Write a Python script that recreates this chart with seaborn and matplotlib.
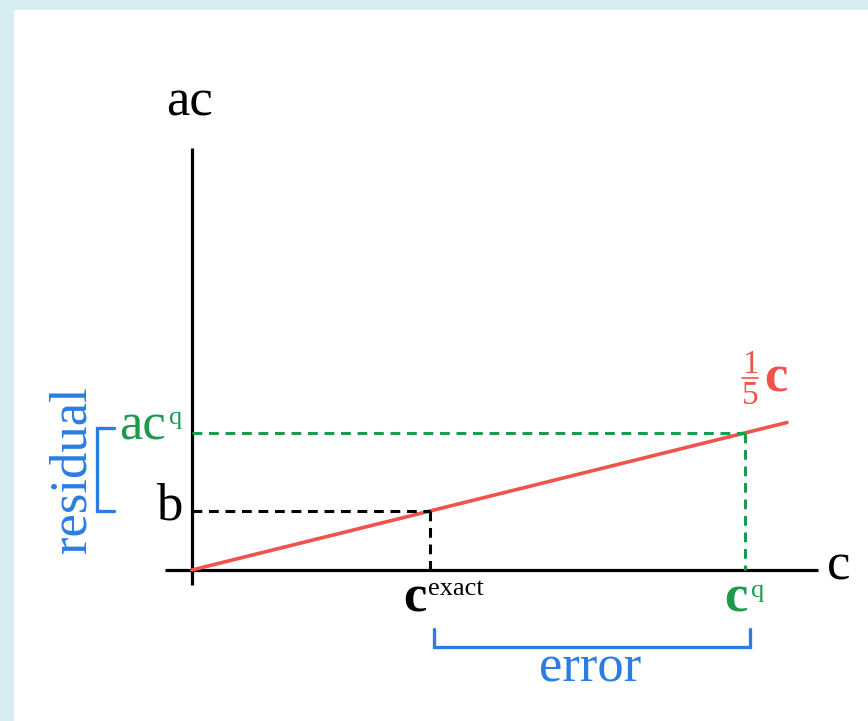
import matplotlib
matplotlib.use("Agg")
import matplotlib.pyplot as plt
import seaborn as sns
import numpy as np
import pandas as pd
from matplotlib.patches import Rectangle

# ---- data ----
slope = 1 / 5
line_c = [0.0, 5.0]                 # red line c range
c_exact = 2.0
c_q = 4.65
b_val = slope * c_exact             # 0.4
acq_val = slope * c_q               # 0.93
x_axis_range = [-0.23, 5.26]
y_axis_range = [-0.10, 2.86]
residual_bracket_y = [b_val, acq_val + 0.03]
error_bracket_x = [2.03, 4.69]

RED = "#f0524c"
GREEN = "#1e9a4c"
BLUE = "#2b7de3"

sns.set_style("white")
plt.rcParams["font.family"] = ["Liberation Serif", "DejaVu Serif"]

fig = plt.figure(figsize=(8.68, 7.21), dpi=100)
fig.patch.set_facecolor("white")
# light blue slide border (top and left)
fig.patches.append(Rectangle((0, 1 - 10 / 721), 1, 10 / 721, transform=fig.transFigure,
                             facecolor="#d6edf1", edgecolor="none", zorder=0))
fig.patches.append(Rectangle((0, 0), 14 / 868, 1, transform=fig.transFigure,
                             facecolor="#d6edf1", edgecolor="none", zorder=0))

ax = fig.add_axes([14 / 868, 0, 1 - 14 / 868, 1 - 10 / 721])
ax.set_facecolor("white")
# mapping: px = 192 + 119*c ; py = 570 - 147.5*v
ax.set_xlim((14 - 192) / 119, (868 - 192) / 119)
ax.set_ylim((570 - 721) / 147.5, (570 - 10) / 147.5)
for s in ax.spines.values():
    s.set_visible(False)
ax.set_xticks([])
ax.set_yticks([])


def X(px):
    return (px - 192) / 119


def Y(py):
    return (570 - py) / 147.5


# axes lines
ax.plot(x_axis_range, [0, 0], color="black", lw=2.3, solid_capstyle="butt")
ax.plot([0, 0], y_axis_range, color="black", lw=2.3, solid_capstyle="butt")

# red line
df = pd.DataFrame({"c": line_c, "ac": [slope * v for v in line_c]})
sns.lineplot(data=df, x="c", y="ac", ax=ax, color=RED, lw=2.6)

dash = (0, (3.2, 2.2))
# black dashes
ax.plot([0, c_exact], [b_val, b_val], color="black", lw=2.2, linestyle=dash)
ax.plot([c_exact, c_exact], [b_val, 0], color="black", lw=2.2, linestyle=dash)
# green dashes
ax.plot([0, c_q], [acq_val, acq_val], color=GREEN, lw=2.2, linestyle=dash)
ax.plot([c_q, c_q], [acq_val, 0], color=GREEN, lw=2.2, linestyle=dash)

# residual bracket
bx0, bx1 = X(114), X(97)
ax.plot([bx0, bx1, bx1, bx0],
        [residual_bracket_y[1], residual_bracket_y[1], residual_bracket_y[0], residual_bracket_y[0]],
        color=BLUE, lw=2.4, solid_joinstyle="miter")
# error bracket
ey0, ey1 = Y(629), Y(647)
ax.plot([error_bracket_x[0], error_bracket_x[0], error_bracket_x[1], error_bracket_x[1]],
        [ey0, ey1, ey1, ey0], color=BLUE, lw=2.4, solid_joinstyle="miter")

fs = 38
sfs = 19
# axis labels
ax.text(X(190), Y(116), "ac", fontsize=fs, ha="center", va="baseline", color="black")
ax.text(X(839), Y(580), "c", fontsize=fs, ha="center", va="baseline", color="black")
# b
ax.text(X(182), Y(519), "b", fontsize=fs, ha="right", va="baseline", color="black")
# ac^q
ax.text(X(166), Y(439), "ac", fontsize=fs, ha="right", va="baseline", color=GREEN)
ax.text(X(169), Y(424), "q", fontsize=sfs, ha="left", va="baseline", color=GREEN)
# c^exact
ax.text(X(415), Y(612), "c", fontsize=fs, ha="center", va="baseline", color="black",
        fontweight="bold")
ax.text(X(428), Y(595), "exact", fontsize=sfs, ha="left", va="baseline", color="black")
# c^q
ax.text(X(736), Y(612), "c", fontsize=fs, ha="center", va="baseline", color=GREEN,
        fontweight="bold")
ax.text(X(751), Y(597), "q", fontsize=sfs, ha="left", va="baseline", color=GREEN)
# 1/5 c
ax.text(X(750), Y(373), "1", fontsize=24, ha="center", va="baseline", color=RED)
ax.plot([X(742), X(758)], [Y(378), Y(378)], color=RED, lw=1.2)
ax.text(X(750), Y(404), "5", fontsize=24, ha="center", va="baseline", color=RED)
ax.text(X(776), Y(391), "c", fontsize=fs, ha="center", va="baseline", color=RED,
        fontweight="bold")
# residual / error
ax.text(X(73), Y(470), "residual", fontsize=fs, ha="center", va="center",
        color=BLUE, rotation=90)
ax.text(X(590), Y(682), "error", fontsize=fs, ha="center", va="baseline", color=BLUE)

fig.savefig("out.png", dpi=100)
